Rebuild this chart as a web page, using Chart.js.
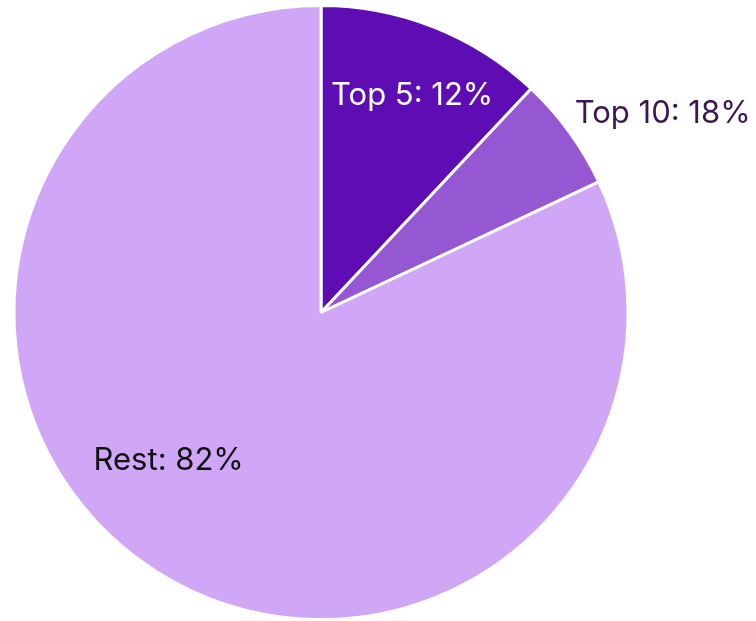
<!DOCTYPE html>
<html>
<head>
<meta charset="utf-8">
<script src="https://cdn.jsdelivr.net/npm/chart.js@4.4.0/dist/chart.umd.min.js"></script>
<style>
  html, body { margin: 0; padding: 0; background: #ffffff; }
  #wrap { width: 756px; height: 621px; position: relative; }
</style>
</head>
<body>
<div id="wrap"><canvas id="pieChart"></canvas></div>
<script>
// Slice data (Top 10 slice = 18% cumulative minus the Top 5 share)
const categories = ['Top 5', 'Top 10', 'Rest'];
const sliceValues = [12, 6, 82];
const labelTexts = ['Top 5: 12%', 'Top 10: 18%', 'Rest: 82%'];
const sliceColors = ['#5e0db5', '#9558d2', '#d0a6f7'];

// where each label sits: fraction across the slice's angle, fraction of radius
const labelPlacement = [
    { along: 0.525, radius: 0.77, color: '#ffffff' },
    { along: 0.76, radius: 1.29, color: '#3b1650' },
    { along: 0.546, radius: 0.69, color: '#111111' }
];

const sliceLabels = {
    id: 'sliceLabels',
    afterDatasetsDraw(chart) {
        const ctx = chart.ctx;
        const meta = chart.getDatasetMeta(0);
        ctx.save();
        ctx.font = '31px Inter, "Noto Sans", sans-serif';
        ctx.textAlign = 'center';
        ctx.textBaseline = 'middle';
        meta.data.forEach((arc, i) => {
            const p = labelPlacement[i];
            const a = arc.startAngle + (arc.endAngle - arc.startAngle) * p.along;
            const r = arc.outerRadius * p.radius;
            ctx.fillStyle = p.color;
            ctx.fillText(labelTexts[i], arc.x + Math.cos(a) * r, arc.y + Math.sin(a) * r + 1);
        });
        ctx.restore();
    }
};

new Chart(document.getElementById('pieChart'), {
    type: 'pie',
    data: {
        labels: categories,
        datasets: [{
            data: sliceValues,
            backgroundColor: sliceColors,
            borderColor: '#ffffff',
            borderWidth: 3
        }]
    },
    options: {
        responsive: true,
        maintainAspectRatio: false,
        animation: false,
        layout: { padding: { left: 12, right: 126, top: 4, bottom: 0 } },
        plugins: {
            legend: { display: false },
            tooltip: { enabled: false }
        }
    },
    plugins: [sliceLabels]
});
</script>
</body>
</html>
